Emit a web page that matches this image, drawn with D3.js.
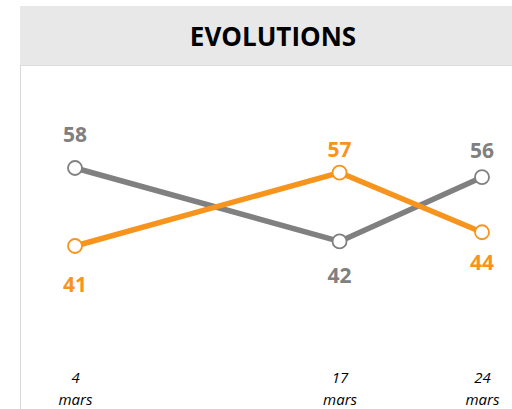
<!DOCTYPE html>
<html><head><meta charset="utf-8">
<script src="https://cdn.jsdelivr.net/npm/d3@7/dist/d3.min.js"></script>
<style>body{margin:0;background:#fff}svg{display:block}</style>
</head><body>
<script>
const dates = ["2020-03-04", "2020-03-17", "2020-03-24"];
const tickDays = ["4", "17", "24"];
const tickMonth = ["mars", "mars", "mars"];
const greySeries = [58, 42, 56];
const orangeSeries = [41, 57, 44];
const title = "EVOLUTIONS";

const W = 512, H = 409;
const svg = d3.select("body").append("svg").attr("width", W).attr("height", H);
const parse = d3.timeParse("%Y-%m-%d");
const dts = dates.map(parse);

// background panels
svg.append("rect").attr("x", 20).attr("y", 6).attr("width", W - 20).attr("height", 59).attr("fill", "#e8e8e8");
svg.append("line").attr("x1", 20).attr("x2", W).attr("y1", 65.5).attr("y2", 65.5).attr("stroke", "#dcdcdc").attr("stroke-width", 1);
svg.append("line").attr("x1", 20.5).attr("x2", 20.5).attr("y1", 65).attr("y2", H).attr("stroke", "#d9d9d9").attr("stroke-width", 1);

svg.append("text").attr("x", 273).attr("y", 45.5).attr("text-anchor", "middle")
  .attr("font-family", "Open Sans").attr("font-weight", "bold").attr("font-size", 26)
  .attr("fill", "#000").text(title);

const x = d3.scaleTime().domain([dts[0], dts[2]]).range([75, 482]);
const y = d3.scaleLinear().domain([40, 60]).range([250.6, 158.8]);

// label offsets (baseline relative to point), per point
const series = [
  {vals: greySeries, color: "#808080", off: [-26, 42, -19]},
  {vals: orangeSeries, color: "#f7941d", off: [46, -16, 38]}
];

const line = d3.line().x(d => x(d.date)).y(d => y(d.v));

series.forEach(s => {
  const pts = s.vals.map((v, i) => ({date: dts[i], v, off: s.off[i]}));
  svg.append("path").datum(pts).attr("d", line).attr("fill", "none")
    .attr("stroke", s.color).attr("stroke-width", 5.5).attr("stroke-linejoin", "round");
  svg.selectAll(null).data(pts).enter().append("circle")
    .attr("cx", d => x(d.date)).attr("cy", d => y(d.v)).attr("r", 7)
    .attr("fill", "#fff").attr("stroke", s.color).attr("stroke-width", 1.8);
  svg.selectAll(null).data(pts).enter().append("text")
    .attr("x", d => x(d.date)).attr("y", d => y(d.v) + d.off)
    .attr("text-anchor", "middle").attr("font-family", "Open Sans").attr("font-weight", "bold")
    .attr("font-size", 21).attr("fill", s.color).text(d => d.v);
});

// x axis labels
const axis = d3.axisBottom(x).tickValues(dts).tickSize(0).tickFormat("");
const g = svg.append("g").attr("transform", "translate(0,366)").call(axis);
g.select(".domain").remove();
g.selectAll(".tick").each(function(d, i) {
  const t = d3.select(this).append("text").attr("text-anchor", "middle")
    .attr("font-family", "Open Sans").attr("font-style", "italic").attr("font-size", 15).attr("fill", "#000");
  t.append("tspan").attr("x", 0).attr("y", 17).text(tickDays[i]);
  t.append("tspan").attr("x", 0).attr("y", 39).text(tickMonth[i]);
});
</script>
</body></html>
